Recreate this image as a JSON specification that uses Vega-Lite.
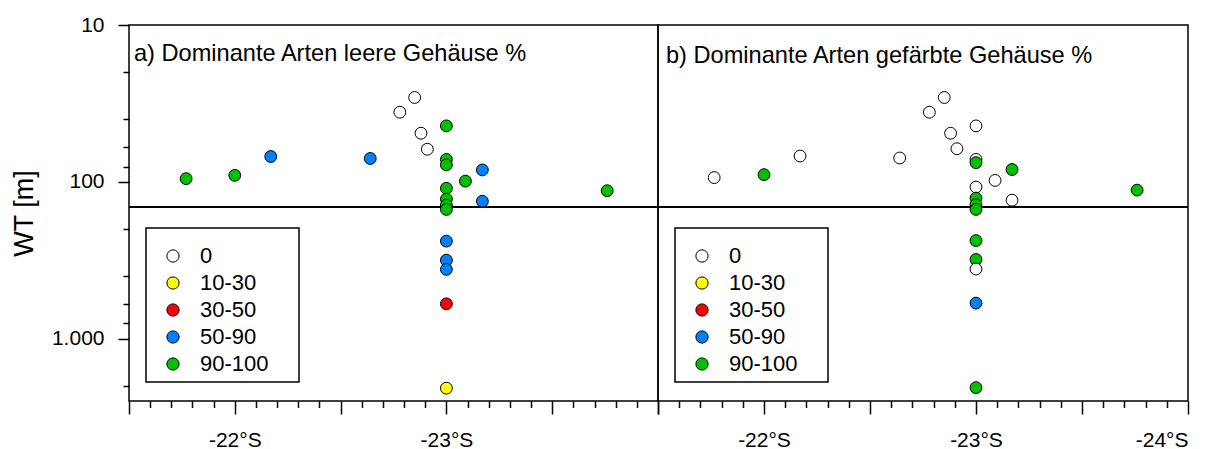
{
  "$schema": "https://vega.github.io/schema/vega-lite/v6.json",
  "padding": {"left": 9, "top": 13, "right": 0, "bottom": 0},
  "background": "white",
  "spacing": 0,
  "bounds": "flush",
  "config": {
    "locale": {"number": {"decimal": ",", "thousands": ".", "grouping": [3], "currency": ["", " €"], "minus": "-"}},
    "view": {"stroke": "black", "strokeWidth": 1.5},
    "font": "Liberation Sans",
    "axis": {"domain": false, "grid": false, "tickColor": "black", "tickWidth": 1.5, "labelColor": "black", "labelFont": "Liberation Sans", "labelFontSize": 21, "titleFont": "Liberation Sans", "titleColor": "black", "titleFontWeight": "normal"},
    "legend": {"orient": "none", "legendX": 17, "legendY": 203, "padding": 7, "strokeColor": "black", "strokeWidth": 1.5, "fillColor": "white", "symbolType": "circle", "symbolSize": 150, "symbolStrokeColor": "black", "symbolStrokeWidth": 1, "labelFontSize": 22, "labelFont": "Liberation Sans", "labelColor": "black", "labelOffset": 16, "rowPadding": 5, "symbolOffset": 9, "titleFontSize": 5, "titlePadding": 5, "titleColor": "white", "titleLimit": 400},
    "title": {"font": "Liberation Sans", "fontSize": 23.6, "fontWeight": "normal", "color": "black", "anchor": "start", "frame": "group", "baseline": "alphabetic"}
  },
  "datasets": {
    "a": [
      {"lat": -21.77, "wt": 95.5, "cls": "90-100"},
      {"lat": -22.0, "wt": 91, "cls": "90-100"},
      {"lat": -22.17, "wt": 69, "cls": "50-90"},
      {"lat": -22.64, "wt": 71, "cls": "50-90"},
      {"lat": -22.85, "wt": 29, "cls": "0"},
      {"lat": -22.78, "wt": 36, "cls": "0"},
      {"lat": -22.88, "wt": 49, "cls": "0"},
      {"lat": -22.91, "wt": 62, "cls": "0"},
      {"lat": -23.0, "wt": 44, "cls": "90-100"},
      {"lat": -23.0, "wt": 72, "cls": "90-100"},
      {"lat": -23.0, "wt": 78, "cls": "90-100"},
      {"lat": -23.17, "wt": 84, "cls": "50-90"},
      {"lat": -23.09, "wt": 99, "cls": "90-100"},
      {"lat": -23.0, "wt": 110, "cls": "90-100"},
      {"lat": -23.0, "wt": 129, "cls": "90-100"},
      {"lat": -23.17, "wt": 133, "cls": "50-90"},
      {"lat": -23.0, "wt": 141, "cls": "90-100"},
      {"lat": -23.0, "wt": 150, "cls": "90-100"},
      {"lat": -23.76, "wt": 114, "cls": "90-100"},
      {"lat": -23.0, "wt": 239, "cls": "50-90"},
      {"lat": -23.0, "wt": 316, "cls": "50-90"},
      {"lat": -23.0, "wt": 362, "cls": "50-90"},
      {"lat": -23.0, "wt": 600, "cls": "30-50"},
      {"lat": -23.0, "wt": 2070, "cls": "10-30"}
    ],
    "b": [
      {"lat": -21.765, "wt": 94, "cls": "0"},
      {"lat": -22.0, "wt": 90, "cls": "90-100"},
      {"lat": -22.17, "wt": 68.5, "cls": "0"},
      {"lat": -22.64, "wt": 70.5, "cls": "0"},
      {"lat": -22.85, "wt": 29, "cls": "0"},
      {"lat": -22.78, "wt": 36, "cls": "0"},
      {"lat": -23.0, "wt": 44, "cls": "0"},
      {"lat": -22.88, "wt": 49, "cls": "0"},
      {"lat": -22.91, "wt": 61.5, "cls": "0"},
      {"lat": -23.0, "wt": 72, "cls": "0"},
      {"lat": -23.0, "wt": 75.5, "cls": "90-100"},
      {"lat": -23.17, "wt": 83.5, "cls": "90-100"},
      {"lat": -23.09, "wt": 98, "cls": "0"},
      {"lat": -23.0, "wt": 108, "cls": "0"},
      {"lat": -23.0, "wt": 127, "cls": "90-100"},
      {"lat": -23.17, "wt": 131, "cls": "0"},
      {"lat": -23.0, "wt": 140, "cls": "90-100"},
      {"lat": -23.0, "wt": 150, "cls": "90-100"},
      {"lat": -23.76, "wt": 113, "cls": "90-100"},
      {"lat": -23.0, "wt": 237, "cls": "90-100"},
      {"lat": -23.0, "wt": 313, "cls": "90-100"},
      {"lat": -23.0, "wt": 360, "cls": "0"},
      {"lat": -23.0, "wt": 594, "cls": "50-90"},
      {"lat": -23.0, "wt": 2055, "cls": "90-100"}
    ]
  },
  "hconcat": [
    {
      "width": 529,
      "height": 376,
      "data": {"name": "a"},
      "title": {"text": "a) Dominante Arten leere Gehäuse %", "offset": -52, "dx": 5},
      "layer": [
        {
          "mark": {"type": "rule", "color": "black", "strokeWidth": 1.5},
          "encoding": {"y": {"datum": 145, "type": "quantitative", "scale": {"type": "log", "domain": [10, 2500], "reverse": true, "nice": false}, "axis": null}}
        },
        {
          "mark": {"type": "point", "opacity": 0},
          "encoding": {
            "x": {"field": "lat", "type": "quantitative", "scale": {"domain": [-21.5, -24], "nice": false, "zero": false},
                  "axis": {"orient": "bottom", "values": [-21.6,-21.7,-21.8,-21.9,-22.1,-22.2,-22.3,-22.4,-22.6,-22.7,-22.8,-22.9,-23.1,-23.2,-23.3,-23.4,-23.6,-23.7,-23.8,-23.9], "tickSize": 6.5, "labels": false, "title": null}},
            "y": {"field": "wt", "type": "quantitative", "scale": {"type": "log", "domain": [10, 2500], "reverse": true, "nice": false},
                  "axis": {"orient": "left", "values": [20,40,60,80,200,400,600,800,2000], "tickSize": 6, "labels": false, "title": null}}
          }
        },
        {
          "mark": {"type": "circle", "size": 140, "opacity": 1, "stroke": "black", "strokeWidth": 1},
          "encoding": {
            "x": {"field": "lat", "type": "quantitative", "scale": {"domain": [-21.5, -24], "nice": false, "zero": false},
                  "axis": {"orient": "bottom", "values": [-21.5,-22,-22.5,-23,-23.5,-24], "tickSize": 13, "labelPadding": 15, "title": null,
                           "labelExpr": "datum.value % 1 == 0 && datum.value > -23.9 ? format(datum.value, 'd') + '°S' : ''"}},
            "y": {"field": "wt", "type": "quantitative", "scale": {"type": "log", "domain": [10, 2500], "reverse": true, "nice": false},
                  "axis": {"orient": "left", "values": [10, 100, 1000], "format": ",d", "tickSize": 11, "labelPadding": 14, "title": "WT [m]", "titleFontSize": 27, "titlePadding": 13}},
            "fill": {"field": "cls", "type": "nominal",
                     "scale": {"domain": ["0", "10-30", "30-50", "50-90", "90-100"], "range": ["#ffffff", "#ffff00", "#ff0000", "#0080ff", "#00c000"]},
                     "legend": {"title": "...................................................................................................."}}
          }
        }
      ],
      "resolve": {"axis": {"x": "independent", "y": "independent"}}
    },
    {
      "width": 530,
      "height": 376,
      "data": {"name": "b"},
      "title": {"text": "b) Dominante Arten gefärbte Gehäuse %", "offset": -43, "dx": 8},
      "layer": [
        {
          "mark": {"type": "rule", "color": "black", "strokeWidth": 1.5},
          "encoding": {"y": {"datum": 145, "type": "quantitative", "scale": {"type": "log", "domain": [10, 2500], "reverse": true, "nice": false}, "axis": null}}
        },
        {
          "mark": {"type": "point", "opacity": 0},
          "encoding": {
            "x": {"field": "lat", "type": "quantitative", "scale": {"domain": [-21.5, -24], "nice": false, "zero": false},
                  "axis": {"orient": "bottom", "values": [-21.6,-21.7,-21.8,-21.9,-22.1,-22.2,-22.3,-22.4,-22.6,-22.7,-22.8,-22.9,-23.1,-23.2,-23.3,-23.4,-23.6,-23.7,-23.8,-23.9], "tickSize": 6.5, "labels": false, "title": null}},
            "y": {"field": "wt", "type": "quantitative", "scale": {"type": "log", "domain": [10, 2500], "reverse": true, "nice": false}, "axis": null}
          }
        },
        {
          "mark": {"type": "circle", "size": 140, "opacity": 1, "stroke": "black", "strokeWidth": 1},
          "encoding": {
            "x": {"field": "lat", "type": "quantitative", "scale": {"domain": [-21.5, -24], "nice": false, "zero": false},
                  "axis": {"orient": "bottom", "values": [-21.5,-22,-22.5,-23,-23.5,-24], "tickSize": 13, "labelPadding": 15, "title": null,
                           "labelExpr": "datum.value % 1 == 0 ? format(datum.value, 'd') + '°S' : ''"}},
            "y": {"field": "wt", "type": "quantitative", "scale": {"type": "log", "domain": [10, 2500], "reverse": true, "nice": false}, "axis": null},
            "fill": {"field": "cls", "type": "nominal",
                     "scale": {"domain": ["0", "10-30", "30-50", "50-90", "90-100"], "range": ["#ffffff", "#ffff00", "#ff0000", "#0080ff", "#00c000"]},
                     "legend": {"title": "...................................................................................................."}}
          }
        }
      ],
      "resolve": {"axis": {"x": "independent"}}
    }
  ],
  "resolve": {"legend": {"fill": "independent"}, "scale": {"fill": "independent"}}
}
